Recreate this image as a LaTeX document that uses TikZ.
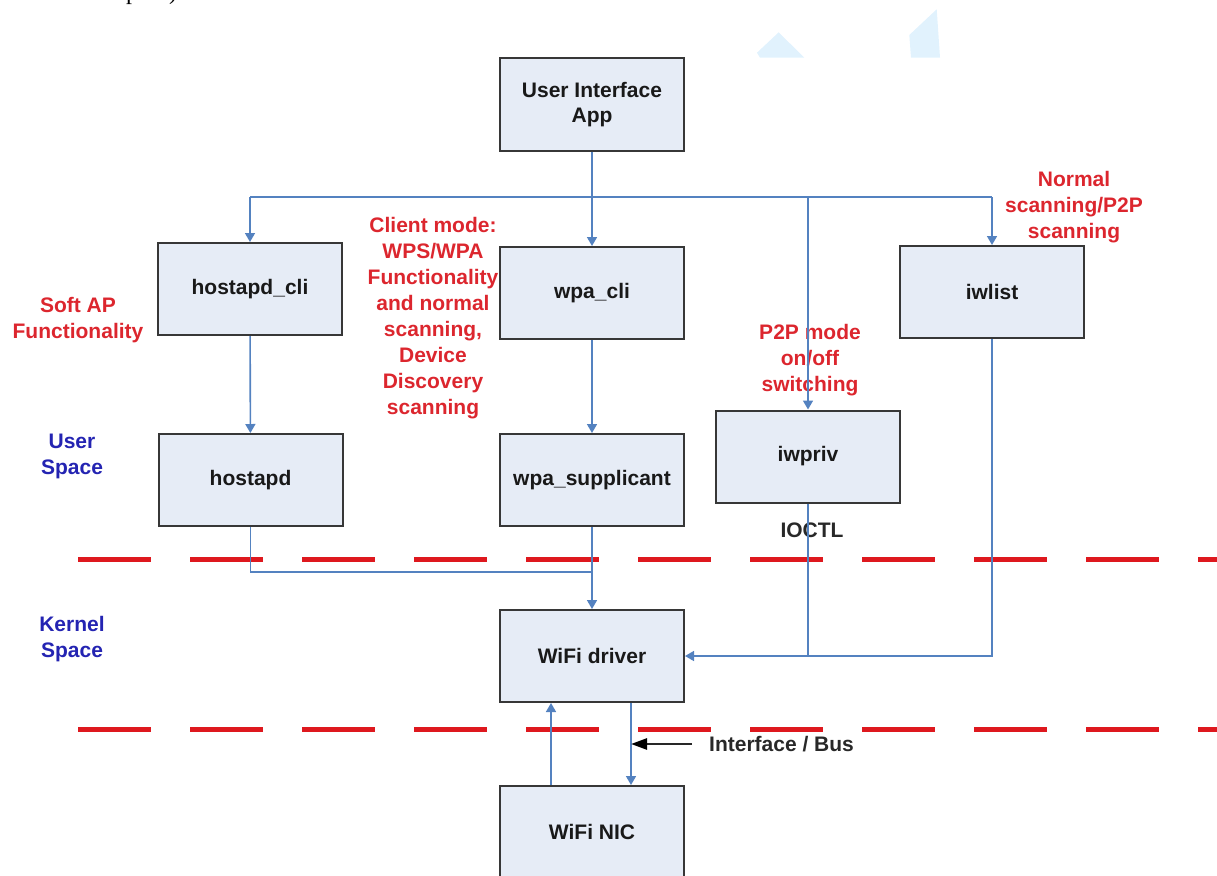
\documentclass[tikz,border=0pt]{standalone}
\usepackage{fontspec}
\setmainfont{Liberation Sans}
\newfontfamily\serifpart{Liberation Serif}
\usetikzlibrary{arrows.meta,calc}
\definecolor{boxfill}{RGB}{230,236,246}
\definecolor{boxline}{RGB}{55,55,55}
\definecolor{conncol}{RGB}{84,130,192}
\definecolor{lblred}{RGB}{220,38,46}
\definecolor{lblblue}{RGB}{36,36,178}
\definecolor{dashred}{RGB}{222,24,30}
\definecolor{ghost}{RGB}{225,242,253}
\definecolor{ifcol}{RGB}{40,40,40}
\definecolor{boxtext}{RGB}{25,25,25}
\begin{document}
\begin{tikzpicture}[x=1pt,y=-1pt,
  box/.style={draw=boxline,line width=2pt,fill=boxfill,text=boxtext,minimum width=184pt,minimum height=92pt,inner sep=0pt,font=\bfseries\fontsize{21}{24}\selectfont,align=center},
  redlbl/.style={text=lblred,font=\bfseries\fontsize{21}{26}\selectfont,align=center,inner sep=0pt},
  bluelbl/.style={text=lblblue,font=\bfseries\fontsize{21}{26}\selectfont,align=center,inner sep=0pt},
  plainlbl/.style={text=ifcol,font=\bfseries\fontsize{21}{26}\selectfont,inner sep=0pt},
  conn/.style={draw=conncol,line width=1.6pt},
  arr/.style={conn,-{Triangle[length=9pt,width=10pt]}},
  blackarr/.style={draw=ifcol,line width=2.6pt,-{Triangle[length=16pt,width=11pt,color=black]}},
  sepline/.style={draw=dashred,line width=5pt,dash pattern=on 73pt off 39pt},
]
\useasboundingbox (0,0) rectangle (1217,875);

% faint leftovers at the top
\fill[ghost] (757,52.7) -- (778.7,32.3) -- (804.3,57.7) -- (760,57.7) -- cycle;
\fill[ghost] (909.3,35) -- (936.7,9.3) -- (940,57.7) -- (911,57.7) -- cycle;
\node[anchor=base,inner sep=0pt,font=\serifpart\fontsize{24}{24}\selectfont] (tp) at (132,0) {p};
\node[anchor=base,inner sep=0pt,font=\serifpart\fontsize{24}{24}\selectfont] (tq) at (173,0) {)};

% separators
\draw[sepline] (78,559) -- (1217,559);
\draw[sepline] (78,729) -- (1217,729);

% boxes
\node[box] (ui) at (592,104.5) {User Interface\\[1pt]App};
\node[box] (hcli) at (250,289) {hostapd\_cli};
\node[box] (wcli) at (592,293) {wpa\_cli};
\node[box] (iwlist) at (992,292) {iwlist};
\node[box] (iwpriv) at (808,456.5) {iwpriv};
\node[box] (hostapd) at (250.5,480) {hostapd};
\node[box] (wsup) at (592,480) {wpa\_supplicant};
\node[box] (driver) at (592,656) {WiFi driver};
\node[box] (nic) at (592,832) {WiFi NIC};

% labels
\node[redlbl] (softap) at (78,320) {Soft AP\\Functionality};
\node[redlbl] (client) at (433,318) {Client mode:\\WPS/WPA\\Functionality\\and normal\\scanning,\\Device\\Discovery\\scanning};
\node[redlbl] (p2p) at (810,360) {P2P mode\\on/off\\switching};
\node[redlbl] (normal) at (1074,207) {Normal\\scanning/P2P\\scanning};
\node[bluelbl] (user) at (72,456) {User\\Space};
\node[bluelbl] (kernel) at (72,639) {Kernel\\Space};
\node[plainlbl] (ioctl) at (812,530) {IOCTL};
\node[plainlbl,anchor=west] (ifbus) at (709,744) {Interface / Bus};

% connectors
\coordinate (busY) at (0,197);
\coordinate (busL) at (hcli.north |- busY);
\coordinate (busR) at (iwlist.north |- busY);
\coordinate (busP) at (iwpriv.north |- busY);
\draw[conn] (busL) -- (busR);
\draw[arr] (busL) -- (hcli.north);
\draw[arr] (busR) -- (iwlist.north);
\draw[arr] (busP) -- (iwpriv.north);
\draw[arr] (ui.south) -- (wcli.north);
\draw[arr] (hcli) -- (hostapd);
\draw[arr] (wcli) -- (wsup);
\draw[arr] (wsup) -- (driver);
\coordinate (joinY) at (0,572);
\draw[conn] (hostapd.south) -- (hostapd.south |- joinY) -- (wsup.south |- joinY);
\draw[conn] (iwpriv.south) -- (iwpriv.south |- driver.east);
\draw[arr] (iwlist.south) -- (iwlist.south |- driver.east) -- (driver.east);
\coordinate (upx) at (551,0);
\coordinate (dnx) at (631,0);
\draw[arr] (nic.north -| upx) -- (driver.south -| upx);
\draw[arr] (driver.south -| dnx) -- (nic.north -| dnx);
\coordinate (ifTail) at (692,744);
\draw[blackarr] (ifTail) -- (ifTail -| dnx);
\end{tikzpicture}
\end{document}
